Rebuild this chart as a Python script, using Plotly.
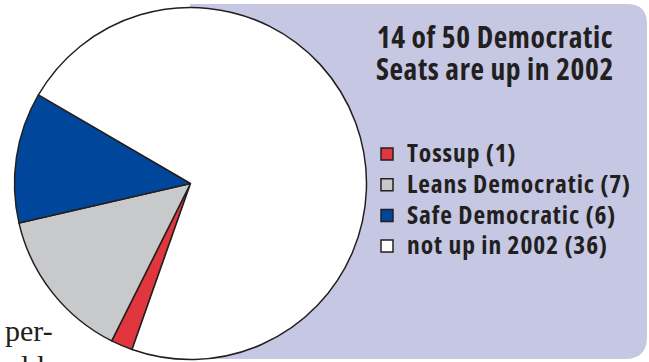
import plotly.graph_objects as go

W, H = 649, 362

# ---- data ----
categories = ["Tossup", "Leans Democratic", "Safe Democratic", "not up in 2002"]
seats = [1, 7, 6, 36]
slice_colors = ["#E2363E", "#C8C9CB", "#00479B", "#FFFFFF"]
title_lines = ["14 of 50 Democratic", "Seats are up in 2002"]
body_text = ["per-", "ld"]

INK = "#231F20"
LAVENDER = "#C5C7E3"
SANS = "'Open Sans', Roboto, sans-serif"
SERIF = "Liberation Serif"


def px(x, y):
    return x / W, 1 - y / H


legend_labels = [
    f"<span style='font-size:25.5px;font-stretch:condensed;letter-spacing:0.9px'>{c} ({v})</span>"
    for c, v in zip(categories, seats)
]

fig = go.Figure()
fig.add_trace(
    go.Pie(
        labels=legend_labels,
        values=seats,
        sort=False,
        direction="clockwise",
        rotation=199.4,
        marker=dict(colors=slice_colors, line=dict(color=INK, width=1.5)),
        textinfo="none",
        hoverinfo="skip",
        domain=dict(x=[14.5 / W, 366.5 / W], y=[1 - 359.5 / H, 1 - 7.5 / H]),
    )
)

# lavender panel with rounded right corners
L, T, R, B = 190, 4, 647, 359
r1, r2 = 20, 22
pts = [
    ("M", [(L, T)]),
    ("L", [(R - r1, T)]),
    ("Q", [(R, T), (R, T + r1)]),
    ("L", [(R, B - r2)]),
    ("Q", [(R, B), (R - r2, B)]),
    ("L", [(L, B)]),
]
path = ""
for cmd, coords in pts:
    path += cmd + " " + " ".join("%.5f,%.5f" % px(x, y) for x, y in coords) + " "
path += "Z"
fig.add_shape(
    type="path", path=path, xref="paper", yref="paper",
    fillcolor=LAVENDER, line=dict(width=0), layer="below",
)

# title (two lines, 32 px apart)
title_html = "<br>".join(
    f"<span style='font-size:29.5px;font-stretch:condensed;letter-spacing:0.6px'>{t}</span>"
    for t in title_lines
)
tx, ty = px(495, 52.5)
fig.add_annotation(
    text=title_html, x=tx, y=ty, xref="paper", yref="paper",
    xanchor="center", yanchor="middle", align="center", showarrow=False,
    font=dict(family=SANS, size=24.6, color=INK, weight="bold"),
)

# surrounding body text (serif)
for i, line in enumerate(body_text):
    x0 = 3 if i == 0 else 19
    x, y = px(x0, 330 + 35 * i)
    fig.add_annotation(
        text=line, x=x, y=y, xref="paper", yref="paper",
        xanchor="left", yanchor="middle", showarrow=False,
        font=dict(family=SERIF, size=30, color=INK),
    )

lx, ly = px(367, 133.65)
fig.update_layout(
    width=W, height=H,
    margin=dict(l=0, r=0, t=0, b=0),
    paper_bgcolor="white", plot_bgcolor="white",
    showlegend=True,
    legend=dict(
        x=lx, y=ly, xanchor="left", yanchor="top",
        bgcolor="rgba(0,0,0,0)",
        font=dict(family=SANS, size=21.3, color=INK, weight="bold"),
        itemclick=False, itemdoubleclick=False,
    ),
)

fig.write_html(
    "out.html",
    config={"displayModeBar": False},
    post_script="document.body.style.margin='0';",
)
